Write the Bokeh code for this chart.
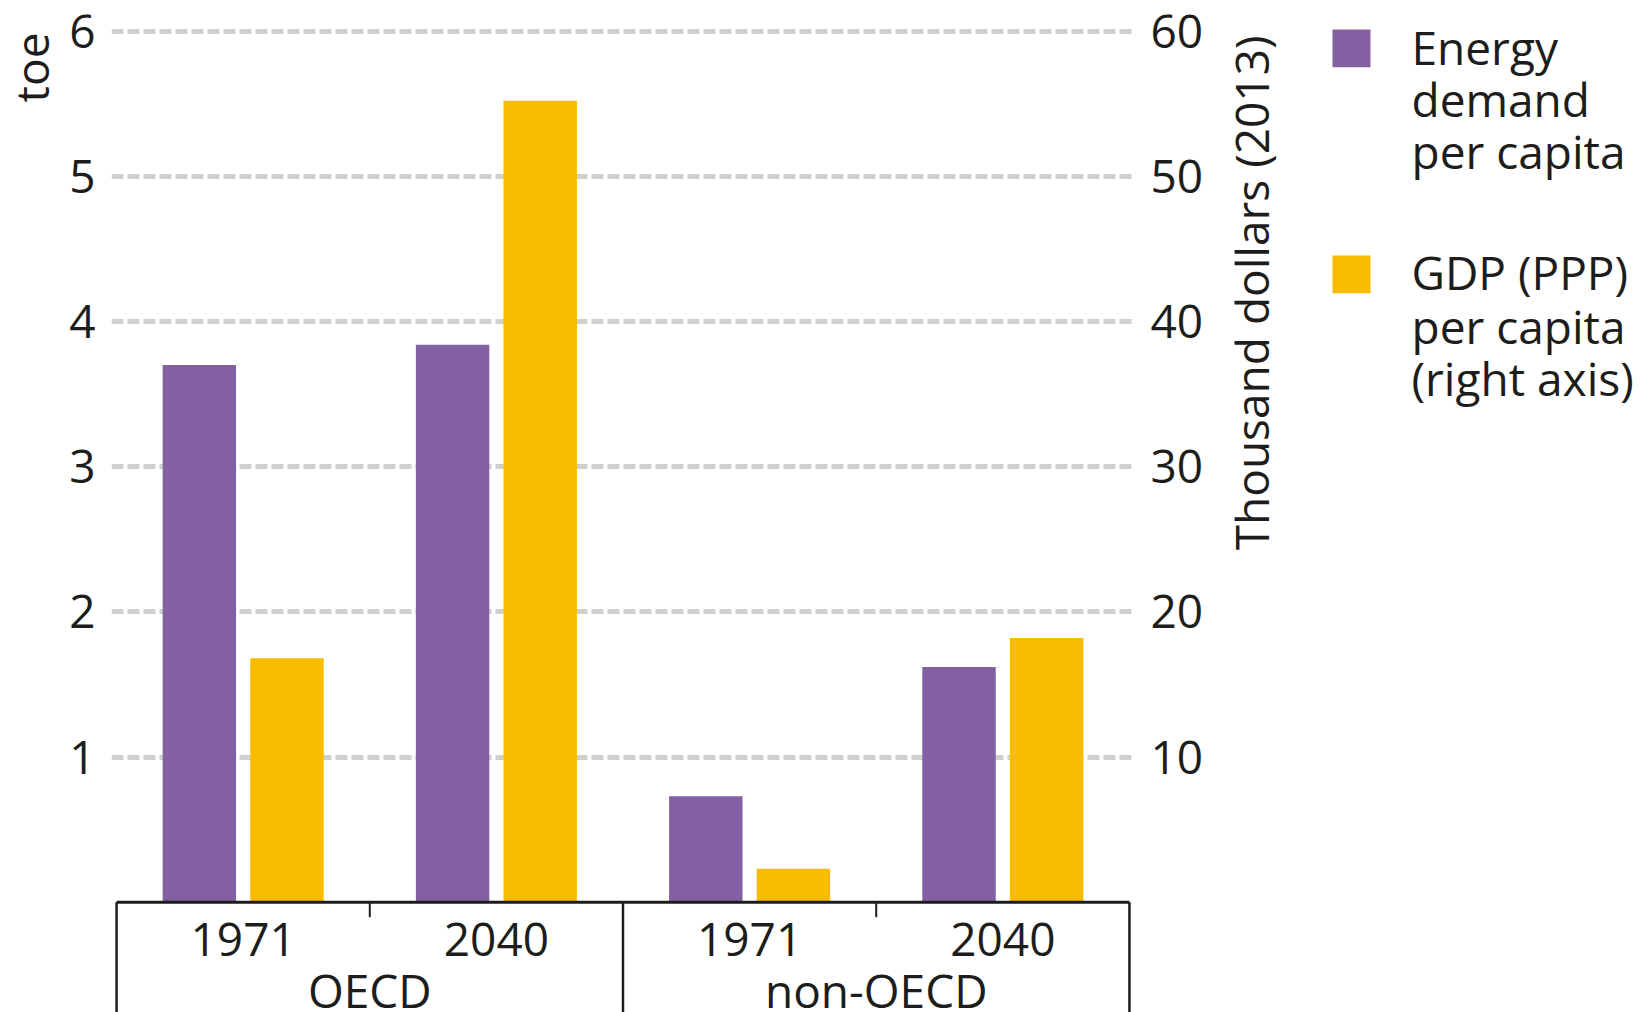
from math import pi
from bokeh.plotting import figure
from bokeh.layouts import row
from bokeh.models import FactorRange, Range1d, LinearAxis, FixedTicker, ColumnDataSource
from bokeh.transform import dodge
from bokeh.core.properties import value
from bokeh.embed import file_html
from bokeh.resources import INLINE

# ---------------- data ----------------
regions = ["OECD", "non-OECD"]
years = ["1971", "2040"]
energy_toe = [3.70, 3.84, 0.73, 1.62]        # left axis, toe per capita
gdp_thousand_usd = [16.8, 55.2, 2.3, 18.2]   # right axis, thousand dollars (2013)
left_ticks = [1, 2, 3, 4, 5, 6]
right_ticks = [10, 20, 30, 40, 50, 60]
series_lines = [["Energy", "demand", "per capita"], ["GDP (PPP)", "per capita", "(right axis)"]]
left_title = "toe"
right_title = "Thousand dollars (2013)"

# ---------------- style ----------------
PURPLE = "#8360a2"
YELLOW = "#f7bb00"
INK = "#1d1d1b"
GRID = "#d0d0d0"
FONT = "Open Sans"
FS = "46px"
H = 1012
TOP = 16          # top border shared by all panels of the row
HALF = 17.5       # distance from text baseline to its 'middle' anchor

W_LEFT = 50
MB_LEFT, FRAME_W, MB_RIGHT = 61, 1023, 100
W_RIGHT = 1645 - W_LEFT - (MB_LEFT + FRAME_W + MB_RIGHT)
X_RIGHT = W_LEFT + MB_LEFT + FRAME_W + MB_RIGHT   # page x where the right strip starts


def blank_panel(w):
    f = figure(width=w, height=H, x_range=Range1d(0, w), y_range=Range1d(H, TOP),
               min_border=0, min_border_top=TOP, x_axis_location=None, y_axis_location=None,
               output_backend="svg", toolbar_location=None, title=None,
               background_fill_color="white", border_fill_color="white")
    f.outline_line_color = None
    for g in f.grid:
        g.visible = False
    return f


def txt(fig, xs, ys, texts, align="left", angle=0.0):
    fig.text(x=xs, y=ys, text=texts, angle=angle, text_align=align, text_baseline="middle",
             text_font=value(FONT), text_font_size=FS, text_color=INK)


# ---------------- left strip: axis title ----------------
left = blank_panel(W_LEFT)
txt(left, [48 - HALF], [32], [left_title], align="right", angle=pi / 2)

# ---------------- main chart ----------------
factors = [(r, y) for r in regions for y in years]
n = len(factors)

x_range = FactorRange(factors=factors, factor_padding=0, subgroup_padding=0, group_padding=0,
                      range_padding=0.02, range_padding_units="absolute")
y_lo, y_hi = -0.760, 6.101
p = figure(x_range=x_range, y_range=Range1d(y_lo, y_hi),
           frame_width=FRAME_W, frame_height=H - TOP,
           min_border_left=MB_LEFT, min_border_right=MB_RIGHT, min_border_top=TOP,
           min_border_bottom=0, x_axis_location=None, y_axis_location="left",
           output_backend="svg", toolbar_location=None, title=None,
           background_fill_color="white", border_fill_color="white")
p.outline_line_color = None
p.extra_y_ranges = {"gdp": Range1d(y_lo * 10, y_hi * 10)}


def style_axis(ax, ticks):
    ax.ticker = FixedTicker(ticks=ticks)
    ax.axis_line_color = None
    ax.major_tick_line_color = None
    ax.minor_tick_line_color = None
    ax.major_tick_in = 0
    ax.major_tick_out = 0
    ax.axis_label_standoff = 0
    ax.major_label_standoff = 16
    ax.major_label_text_font = FONT
    ax.major_label_text_font_size = FS
    ax.major_label_text_color = INK


style_axis(p.yaxis[0], left_ticks)
ax_r = LinearAxis(y_range_name="gdp")
style_axis(ax_r, right_ticks)
p.add_layout(ax_r, "right")

p.xgrid.grid_line_color = None
p.ygrid.ticker = FixedTicker(ticks=left_ticks)
p.ygrid.grid_line_color = GRID
p.ygrid.grid_line_width = 5
p.ygrid.grid_line_dash = "12 4"

src = ColumnDataSource(dict(x=factors, energy=energy_toe, gdp=gdp_thousand_usd))
p.vbar(x=dodge("x", -0.173, range=p.x_range), top="energy", width=0.29, source=src,
       fill_color=PURPLE, line_color=None)
p.vbar(x=dodge("x", 0.173, range=p.x_range), top="gdp", width=0.29, source=src,
       fill_color=YELLOW, line_color=None, y_range_name="gdp")

# category axis drawn below the baseline
ny = len(years)
bounds = [i * ny for i in range(len(regions) + 1)]
mids = [i * ny + k for i in range(len(regions)) for k in range(1, ny)]
p.segment(x0=[0], y0=[0], x1=[n], y1=[0], line_color=INK, line_width=3)
p.segment(x0=bounds, y0=[0] * len(bounds), x1=bounds, y1=[y_lo] * len(bounds),
          line_color=INK, line_width=2.5)
p.segment(x0=mids, y0=[0] * len(mids), x1=mids, y1=[-0.103] * len(mids),
          line_color=INK, line_width=2)

txt(p, factors, [-0.260] * n, [f[1] for f in factors], align="center")
txt(p, regions, [-0.605] * len(regions), regions, align="center")

# ---------------- right strip: right-axis title and legend ----------------
right = blank_panel(W_RIGHT)
txt(right, [1268 - HALF - X_RIGHT], [35], [right_title], align="right", angle=pi / 2)
sq_left, sq_right = 1332 - X_RIGHT, 1370 - X_RIGHT
right.quad(left=[sq_left] * 2, right=[sq_right] * 2, top=[29, 255], bottom=[66.7, 292.7],
           fill_color=[PURPLE, YELLOW], line_color=None)
baselines = [[64.3, 116, 168], [289, 342.7, 395]]
txt(right, [1411 - X_RIGHT] * 6, [b - HALF for bl in baselines for b in bl],
    [t for lines in series_lines for t in lines])

layout = row(left, p, right, spacing=0)
open("out.html", "w").write(file_html(layout, INLINE))
